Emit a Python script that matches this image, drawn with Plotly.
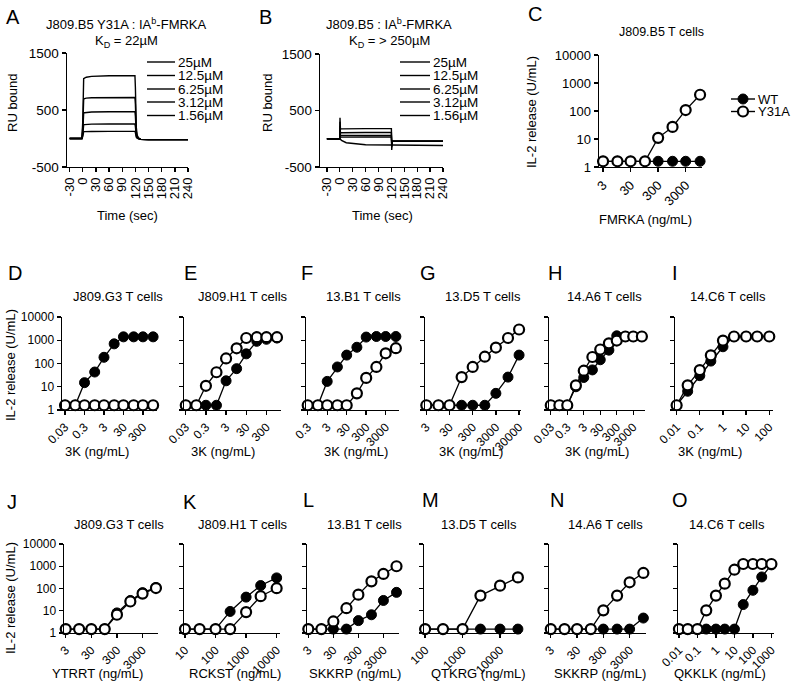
import plotly.graph_objects as go

# ---------------- data ----------------
# Panel A / B : SPR sensorgrams (time in s, RU bound)
conc_labels = ["25µM", "12.5µM", "6.25µM", "3.12µM", "1.56µM"]
t_A = [-30, -2, 0, 1, 2, 4, 8, 20, 60, 117, 119, 120, 121, 122, 124, 127, 132, 150, 240]
A_25 = [0, 0, 300, 1000, 1050, 1060, 1075, 1090, 1100, 1100, 1100, 900, 450, 200, 60, 10, -15, -20, -20]
A_12 = [0, 0, 200, 650, 690, 700, 708, 715, 720, 720, 720, 600, 300, 130, 40, 5, -15, -20, -20]
A_6 = [0, 0, 130, 420, 445, 452, 458, 465, 470, 470, 470, 390, 200, 85, 25, 0, -15, -20, -20]
A_3 = [0, 0, 70, 220, 238, 243, 247, 252, 255, 255, 255, 210, 110, 45, 12, -5, -15, -20, -20]
A_1 = [0, 0, 35, 110, 118, 120, 122, 124, 125, 125, 125, 105, 55, 22, 5, -8, -15, -20, -20]

t_B = [-30, -1, 0, 0.5, 1.5, 4, 15, 60, 119, 120, 120.8, 122, 130, 240]
B_25 = [0, 0, 0, 370, 170, 175, 178, 180, 180, 180, -200, -45, -45, -45]
B_12 = [0, 0, 0, 300, 100, 105, 108, 110, 110, 110, -150, -45, -45, -45]
B_6 = [0, 0, 0, 220, 55, 58, 60, 60, 60, 60, -110, -45, -45, -45]
B_3 = [0, 0, 0, 150, 25, 28, 30, 30, 30, 30, -80, -45, -45, -45]
B_1 = [0, 0, 0, 0, -10, -30, -70, -105, -110, -110, -120, -120, -120, -120]
time_ticks = [-30, 0, 30, 60, 90, 120, 150, 180, 210, 240]
ru_ticks = [-500, 500, 1500]

# IL-2 release (U/mL) dose responses
il2_ticks = [1, 10, 100, 1000, 10000]
series_names = ["WT", "Y31A"]

conc_C = [3, 10, 30, 100, 300, 1000, 3000, 10000]
wt_C = [1.6, 1.6, 1.6, 1.6, 1.6, 1.6, 1.6, 1.6]
y31a_C = [1.6, 1.6, 1.6, 1.6, 11, 27, 108, 380]
ticks_C = [3, 30, 300, 3000]

conc_D = [0.03, 0.1, 0.3, 1, 3, 10, 30, 100, 300, 1000]
wt_D = [1.6, 1.6, 15, 43, 185, 700, 1400, 1400, 1400, 1400]
y31a_D = [1.6, 1.6, 1.6, 1.6, 1.6, 1.6, 1.6, 1.6, 1.6, 1.6]
ticks_D = [0.03, 0.3, 3, 30, 300]

conc_E = [0.03, 0.1, 0.3, 1, 3, 10, 30, 100, 300, 1000]
wt_E = [1.6, 1.6, 1.6, 1.6, 18, 60, 260, 900, 1100, 1250]
y31a_E = [1.6, 1.6, 11, 42, 165, 450, 1250, 1350, 1350, 1350]
ticks_E = [0.03, 0.3, 3, 30, 300]

conc_F = [0.3, 1, 3, 10, 30, 100, 300, 1000, 3000, 10000]
wt_F = [1.6, 1.6, 17, 71, 230, 500, 1370, 1450, 1450, 1450]
y31a_F = [1.6, 1.6, 1.6, 1.6, 1.6, 5.2, 24, 71, 275, 455]
ticks_F = [0.3, 3, 30, 300, 3000]

conc_G = [3, 10, 30, 100, 300, 1000, 3000, 10000, 30000]
wt_G = [1.6, 1.6, 1.6, 1.6, 1.6, 1.6, 5.2, 26, 230]
y31a_G = [1.6, 1.6, 1.6, 26, 71, 196, 485, 1250, 2900]
ticks_G = [3, 30, 300, 3000, 30000]

conc_H = [0.03, 0.1, 0.3, 1, 3, 10, 30, 100, 300, 1000, 3000, 10000]
wt_H = [1.6, 1.6, 1.6, 10, 25, 53, 145, 375, 1550, 1450, 1450, 1450]
y31a_H = [1.6, 1.6, 1.6, 11.5, 49, 190, 400, 740, 970, 1450, 1450, 1450]
ticks_H = [0.03, 0.3, 3, 30, 300, 3000]

conc_I = [0.01, 0.03, 0.1, 0.3, 1, 3, 10, 30, 100]
wt_I = [1.6, 6.4, 30, 127, 525, 1450, 1450, 1450, 1450]
y31a_I = [1.6, 11.5, 52, 225, 970, 1450, 1450, 1450, 1450]
ticks_I = [0.01, 0.1, 1, 10, 100]

conc_J = [3, 10, 30, 100, 300, 1000, 3000, 10000]
wt_J = [1.5, 1.5, 1.5, 1.5, 8, 29, 65, 110]
y31a_J = [1.5, 1.5, 1.5, 1.5, 6.6, 26, 59, 105]
ticks_J = [3, 30, 300, 3000]

conc_K = [10, 30, 100, 300, 1000, 3000, 10000]
wt_K = [1.5, 1.5, 1.5, 9.3, 41, 136, 300]
y31a_K = [1.5, 1.5, 1.5, 1.5, 8.7, 45, 103]
ticks_K = [10, 100, 1000, 10000]

conc_L = [3, 10, 30, 100, 300, 1000, 3000, 10000]
wt_L = [1.5, 1.5, 1.5, 1.5, 3.6, 6.6, 29, 67]
y31a_L = [1.5, 1.5, 3.3, 13, 53, 210, 450, 1000]
ticks_L = [3, 30, 300, 3000]

conc_M = [100, 300, 1000, 3000, 10000, 30000]
wt_M = [1.5, 1.5, 1.5, 1.5, 1.5, 1.5]
y31a_M = [1.5, 1.5, 1.5, 48, 134, 316]
ticks_M = [100, 1000, 10000]

conc_N = [3, 10, 30, 100, 300, 1000, 3000, 10000]
wt_N = [1.5, 1.5, 1.5, 1.5, 1.5, 1.5, 1.5, 4.7]
y31a_N = [1.5, 1.5, 1.5, 1.5, 10.4, 48, 190, 500]
ticks_N = [3, 30, 300, 3000]

conc_O = [0.01, 0.03, 0.1, 0.3, 1, 3, 10, 30, 100, 300, 1000]
wt_O = [1.5, 1.5, 1.5, 1.5, 1.5, 1.5, 1.5, 19, 83, 330, 1150]
y31a_O = [1.5, 1.5, 1.5, 10.4, 48, 165, 700, 1260, 1260, 1260, 1260]
ticks_O = [0.01, 0.1, 1, 10, 100, 1000]

# ---------------- layout helpers ----------------
W, H = 800, 697
FONT = "Liberation Sans, Arial, Helvetica, sans-serif"


def P(px):
    return px / W


def Q(py):
    return 1 - py / H


def fmt(v):
    return "{:g}".format(v)


fig = go.Figure()
layout = dict(
    template="none",
    width=W, height=H, margin=dict(l=0, r=0, t=0, b=0, pad=0, autoexpand=False),
    paper_bgcolor="white", plot_bgcolor="white",
    font=dict(family=FONT, color="black", size=12),
    showlegend=False,
)
annotations = []
shapes = []

axis_common = dict(showline=True, linecolor="black", linewidth=1.4, ticks="outside",
                   ticklen=4, tickwidth=1.4, tickcolor="black", showgrid=False,
                   zeroline=False, fixedrange=True, automargin=False)


def add_axes(i, xdom, ydom, xaxis_extra, yaxis_extra):
    xn = "xaxis" if i == 1 else "xaxis%d" % i
    yn = "yaxis" if i == 1 else "yaxis%d" % i
    xa = dict(axis_common, domain=[P(xdom[0]), P(xdom[1])], anchor="y" if i == 1 else "y%d" % i)
    ya = dict(axis_common, domain=[Q(ydom[1]), Q(ydom[0])], anchor="x" if i == 1 else "x%d" % i)
    xa.update(xaxis_extra)
    ya.update(yaxis_extra)
    layout[xn] = xa
    layout[yn] = ya
    return ("x" if i == 1 else "x%d" % i), ("y" if i == 1 else "y%d" % i)


def text(x, y, s, size=13, angle=0, anchor="center"):
    annotations.append(dict(x=P(x), y=Q(y), xref="paper", yref="paper", text=s,
                            showarrow=False, font=dict(size=size, family=FONT, color="black"),
                            xanchor=anchor, yanchor="middle", textangle=angle))


# ---------------- panels A, B ----------------
sens = [
    (1, (67, 188), (53, 167), [-36, 240], t_A, [A_25, A_12, A_6, A_3, A_1]),
    (2, (320, 443), (54, 167), [-46, 240], t_B, [B_25, B_12, B_6, B_3, B_1]),
]
for i, xd, yd, xr, tt, curves in sens:
    xr_, yr_ = add_axes(
        i, xd, yd,
        dict(range=xr, tickvals=time_ticks, ticktext=[fmt(v) for v in time_ticks],
             tickangle=-90, tickfont=dict(size=13)),
        dict(range=[-500, 1500], tickvals=ru_ticks, ticktext=[fmt(v) for v in ru_ticks],
             tickfont=dict(size=13.5)))
    for c in curves:
        fig.add_trace(go.Scatter(x=tt, y=c, mode="lines", xaxis=xr_, yaxis=yr_,
                                 line=dict(color="black", width=1.4), showlegend=False,
                                 cliponaxis=False))

# concentration keys in A and B
keyA_y = [62, 75.5, 89, 102, 115.5]
for k, lab in enumerate(conc_labels):
    for (x0, x1) in [(147, 175), (400, 430)]:
        shapes.append(dict(type="line", xref="paper", yref="paper", x0=P(x0), x1=P(x1),
                           y0=Q(keyA_y[k]), y1=Q(keyA_y[k]),
                           line=dict(color="black", width=1.4)))
        text(x1 + 1, keyA_y[k] + 0.5, lab, size=13.5, anchor="left")

# ---------------- dose-response panels ----------------
panels = [
    # idx, xdom, ydom, xrange(log), conc, wt, y31a, ticks, show y labels, tickfont
    (3, (599, 702), (55, 167), [0.33, 4.07], conc_C, wt_C, y31a_C, ticks_C, True, 13),
    (4, (62, 157), (317, 410), [-1.68, 3.2], conc_D, wt_D, y31a_D, ticks_D, True, 12),
    (5, (184, 281), (317, 410), [-1.61, 3.2], conc_E, wt_E, y31a_E, ticks_E, False, 12),
    (6, (306, 399), (317, 410), [-0.61, 4.16], conc_F, wt_F, y31a_F, ticks_F, False, 12),
    (7, (425, 521), (317, 410), [0.42, 4.56], conc_G, wt_G, y31a_G, ticks_G, False, 12),
    (8, (549, 645), (317, 410), [-1.63, 4.19], conc_H, wt_H, y31a_H, ticks_H, False, 12),
    (9, (675, 773), (317, 410), [-2.07, 2.16], conc_I, wt_I, y31a_I, ticks_I, False, 12),
    (10, (64, 158), (544, 633), [0.41, 4.08], conc_J, wt_J, y31a_J, ticks_J, True, 12),
    (11, (184, 280), (544, 633), [0.967, 4.11], conc_K, wt_K, y31a_K, ticks_K, False, 12),
    (12, (307, 399), (544, 633), [0.425, 4.1], conc_L, wt_L, y31a_L, ticks_L, False, 12),
    (13, (424, 521), (544, 633), [1.97, 4.56], conc_M, wt_M, y31a_M, ticks_M, False, 12),
    (14, (549, 646), (544, 633), [0.41, 4.1], conc_N, wt_N, y31a_N, ticks_N, False, 12),
    (15, (678, 774), (544, 633), [-2.05, 3.14], conc_O, wt_O, y31a_O, ticks_O, False, 12),
]
MS = 10
for i, xd, yd, xr, conc, wt, y31, tk, showy, fs in panels:
    xr_, yr_ = add_axes(
        i, xd, yd,
        dict(type="log", range=xr, tickvals=tk, ticktext=[fmt(v) for v in tk],
             tickangle=-45, tickfont=dict(size=fs)),
        dict(type="log", range=[0, 4], tickvals=il2_ticks,
             ticktext=[fmt(v) for v in il2_ticks], showticklabels=showy,
             tickfont=dict(size=fs)))
    fig.add_trace(go.Scatter(x=conc, y=wt, mode="lines+markers", xaxis=xr_, yaxis=yr_,
                             name=series_names[0], cliponaxis=False,
                             line=dict(color="black", width=1.3),
                             marker=dict(symbol="circle", size=MS, color="black",
                                         line=dict(color="black", width=1))))
    fig.add_trace(go.Scatter(x=conc, y=y31, mode="lines+markers", xaxis=xr_, yaxis=yr_,
                             name=series_names[1], cliponaxis=False,
                             line=dict(color="black", width=1.3),
                             marker=dict(symbol="circle", size=MS, color="white",
                                         line=dict(color="black", width=2.2))))

# key for WT / Y31A (panel C)
key_rows = [(99, "black", 1), (111.5, "white", 2.2)]
for (ky, fill, lw), name in zip(key_rows, series_names):
    shapes.append(dict(type="line", xref="paper", yref="paper", x0=P(731), x1=P(755),
                       y0=Q(ky), y1=Q(ky), line=dict(color="black", width=1.4)))
    shapes.append(dict(type="circle", xref="paper", yref="paper",
                       xsizemode="pixel", ysizemode="pixel",
                       xanchor=P(743), yanchor=Q(ky), x0=-5, x1=5, y0=-5, y1=5,
                       fillcolor=fill, line=dict(color="black", width=lw)))
    text(756, ky + 0.5, name, size=13, anchor="left")

# ---------------- text ----------------
letters = [("A", 13, 17), ("B", 265, 17), ("C", 535, 14), ("D", 15, 273), ("E", 190, 273),
           ("F", 307, 273), ("G", 428, 273), ("H", 555, 273), ("I", 675, 273),
           ("J", 12, 502), ("K", 190, 502), ("L", 308, 500), ("M", 430, 500),
           ("N", 557, 500), ("O", 680, 500)]
for s, x, y in letters:
    text(x, y, s, size=20)

text(126, 24, "J809.B5 Y31A : IA<sup>b</sup>-FMRKA", 13)
text(126, 41, "K<sub>D</sub> = 22µM", 13)
text(389, 24, "J809.B5 : IA<sup>b</sup>-FMRKA", 13)
text(389, 41, "K<sub>D</sub> = > 250µM", 13)
text(661, 32, "J809.B5 T cells", 12.5)

row2_titles = [(118, "J809.G3 T cells"), (243, "J809.H1 T cells"), (363, "13.B1 T cells"),
               (483, "13.D5 T cells"), (604, "14.A6 T cells"), (728, "14.C6 T cells")]
for x, s in row2_titles:
    text(x, 296, s, 13)
row3_titles = [(119, "J809.G3 T cells"), (243, "J809.H1 T cells"), (364, "13.B1 T cells"),
               (479, "13.D5 T cells"), (605, "14.A6 T cells"), (727, "14.C6 T cells")]
for x, s in row3_titles:
    text(x, 524, s, 13)

text(127, 215, "Time (sec)", 13)
text(382, 215, "Time (sec)", 13)
text(645, 219, "FMRKA (ng/mL)", 13)
for x in [97, 223, 356, 471, 597, 710]:
    text(x, 452, "3K (ng/mL)", 13)
row3_x = [(97, "YTRRT (ng/mL)"), (235, "RCKST (ng/mL)"), (355, "SKKRP (ng/mL)"),
          (478, "QTKRG (ng/mL)"), (600, "SKKRP (ng/mL)"), (720, "QKKLK (ng/mL)")]
for x, s in row3_x:
    text(x, 673, s, 13)

text(13, 103, "RU bound", 13, angle=-90)
text(268, 103, "RU bound", 13, angle=-90)
text(532, 112, "IL-2 release (U/mL)", 13, angle=-90)
text(10, 365, "IL-2 release (U/mL)", 13, angle=-90)
text(10, 598, "IL-2 release (U/mL)", 13, angle=-90)

layout["annotations"] = annotations
layout["shapes"] = shapes
fig.update_layout(**layout)
fig.write_html("out.html",
               config={"displayModeBar": False, "staticPlot": True},
               post_script="document.body.style.margin='0px';"
                           "document.body.style.overflow='hidden';")
